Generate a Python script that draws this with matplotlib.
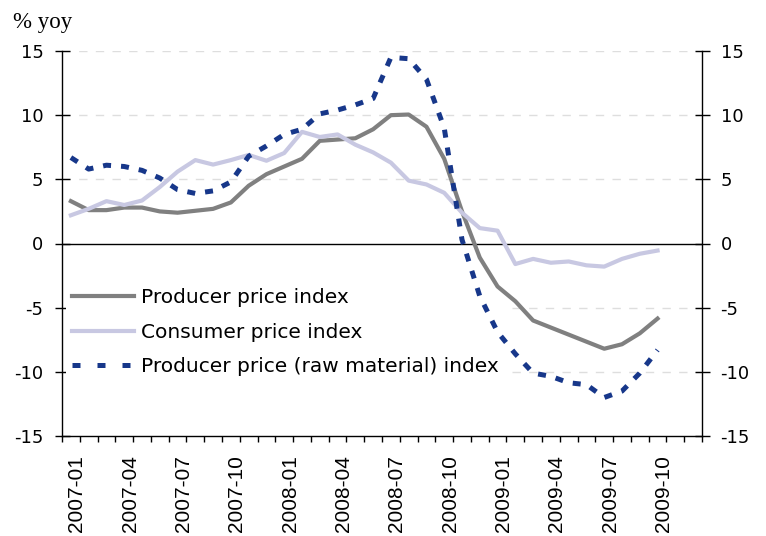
import numpy as np
import matplotlib
matplotlib.use("Agg")
import matplotlib.pyplot as plt
from matplotlib.transforms import ScaledTranslation

plt.rcParams["axes.unicode_minus"] = False

# monthly data, 2007-01 .. 2009-10 (% yoy)
ppi = [3.3, 2.6, 2.6, 2.8, 2.8, 2.5, 2.4, 2.55, 2.7, 3.2, 4.5, 5.4, 6.0, 6.6, 8.0, 8.1, 8.2,
       8.9, 10.0, 10.05, 9.1, 6.6, 2.5, -1.1, -3.35, -4.5, -6.0, -6.55, -7.1, -7.65, -8.2,
       -7.85, -7.0, -5.85]
cpi = [2.2, 2.7, 3.3, 3.0, 3.35, 4.4, 5.6, 6.5, 6.15, 6.5, 6.9, 6.45, 7.05, 8.7, 8.3, 8.5,
       7.7, 7.1, 6.3, 4.9, 4.6, 3.95, 2.4, 1.2, 1.0, -1.6, -1.2, -1.5, -1.4, -1.7, -1.8,
       -1.2, -0.8, -0.55]
raw = [6.7, 5.8, 6.1, 6.0, 5.7, 5.1, 4.2, 3.9, 4.1, 4.8, 6.8, 7.6, 8.5, 8.9, 10.1, 10.4,
       10.8, 11.3, 14.5, 14.4, 12.8, 9.0, 0.3, -4.1, -6.9, -8.6, -10.1, -10.35, -10.85,
       -11.0, -12.0, -11.5, -10.1, -8.3]

n_cats = 36  # axis runs 2007-01 .. 2009-12
tick_labels = ["2007-01", "2007-04", "2007-07", "2007-10", "2008-01", "2008-04",
               "2008-07", "2008-10", "2009-01", "2009-04", "2009-07", "2009-10"]
yticks = [-15, -10, -5, 0, 5, 10, 15]

x = np.arange(len(ppi))

fig = plt.figure(figsize=(7.66, 5.36), dpi=100)
ax = fig.add_axes([62 / 766, 1 - 436 / 536, 640 / 766, 385 / 536])

for y in [-10, -5, 5, 10, 15]:
    ax.axhline(y, color="#dedede", lw=1, ls=(0, (6, 6)), zorder=0)
ax.axhline(0, color="black", lw=1, zorder=1)

ax.plot(x, ppi, color="#808080", lw=3, label="Producer price index", zorder=3)
ax.plot(x, cpi, color="#c8c8e2", lw=3, label="Consumer price index", zorder=3)
ax.plot(x, raw, color="#17378a", lw=3.6, ls=(0, (1.6, 2.0)),
        label="Producer price (raw material) index", zorder=4)

ax.set_xlim(-0.5, n_cats - 0.5)
ax.set_ylim(-15, 15)

ax.spines["top"].set_visible(False)
for s in ["left", "right", "bottom"]:
    ax.spines[s].set_linewidth(1)

ax.set_yticks(yticks)
ax.tick_params(axis="y", direction="inout", length=10.8, width=1, pad=8,
               labelsize=13, right=True, labelright=True)

ax.set_xticks(np.arange(0, len(ppi), 3))
ax.set_xticklabels(tick_labels, rotation=90, family="Liberation Sans", fontsize=15)
ax.set_xticks(np.arange(-0.5, n_cats, 1), minor=True)
ax.tick_params(axis="x", which="major", length=0, pad=13.5)
ax.tick_params(axis="x", which="minor", direction="out", length=4.3, width=1)
for lab in ax.get_xticklabels():
    lab.set_verticalalignment("top")
    lab.set_transform(lab.get_transform() + ScaledTranslation(6 / 100, 0, fig.dpi_scale_trans))

leg = ax.legend(loc="center left", bbox_to_anchor=(0.006, 0.27), frameon=True,
                fontsize=14.5, handlelength=3.1, handletextpad=0.35, labelspacing=0.75,
                borderaxespad=0, borderpad=0.3, fancybox=False)
leg.get_frame().set_edgecolor("none")
leg.get_frame().set_facecolor("white")
leg.get_frame().set_alpha(1)
leg.set_zorder(2)
# wider dash spacing on the legend sample, as in the original
leg.get_lines()[2].set_linestyle((0, (1.6, 3.4)))

fig.text(13 / 766, 1 - 28 / 536, "% yoy", family="Liberation Serif", fontsize=16.5,
         va="baseline")

fig.savefig("out.png", dpi=100)
